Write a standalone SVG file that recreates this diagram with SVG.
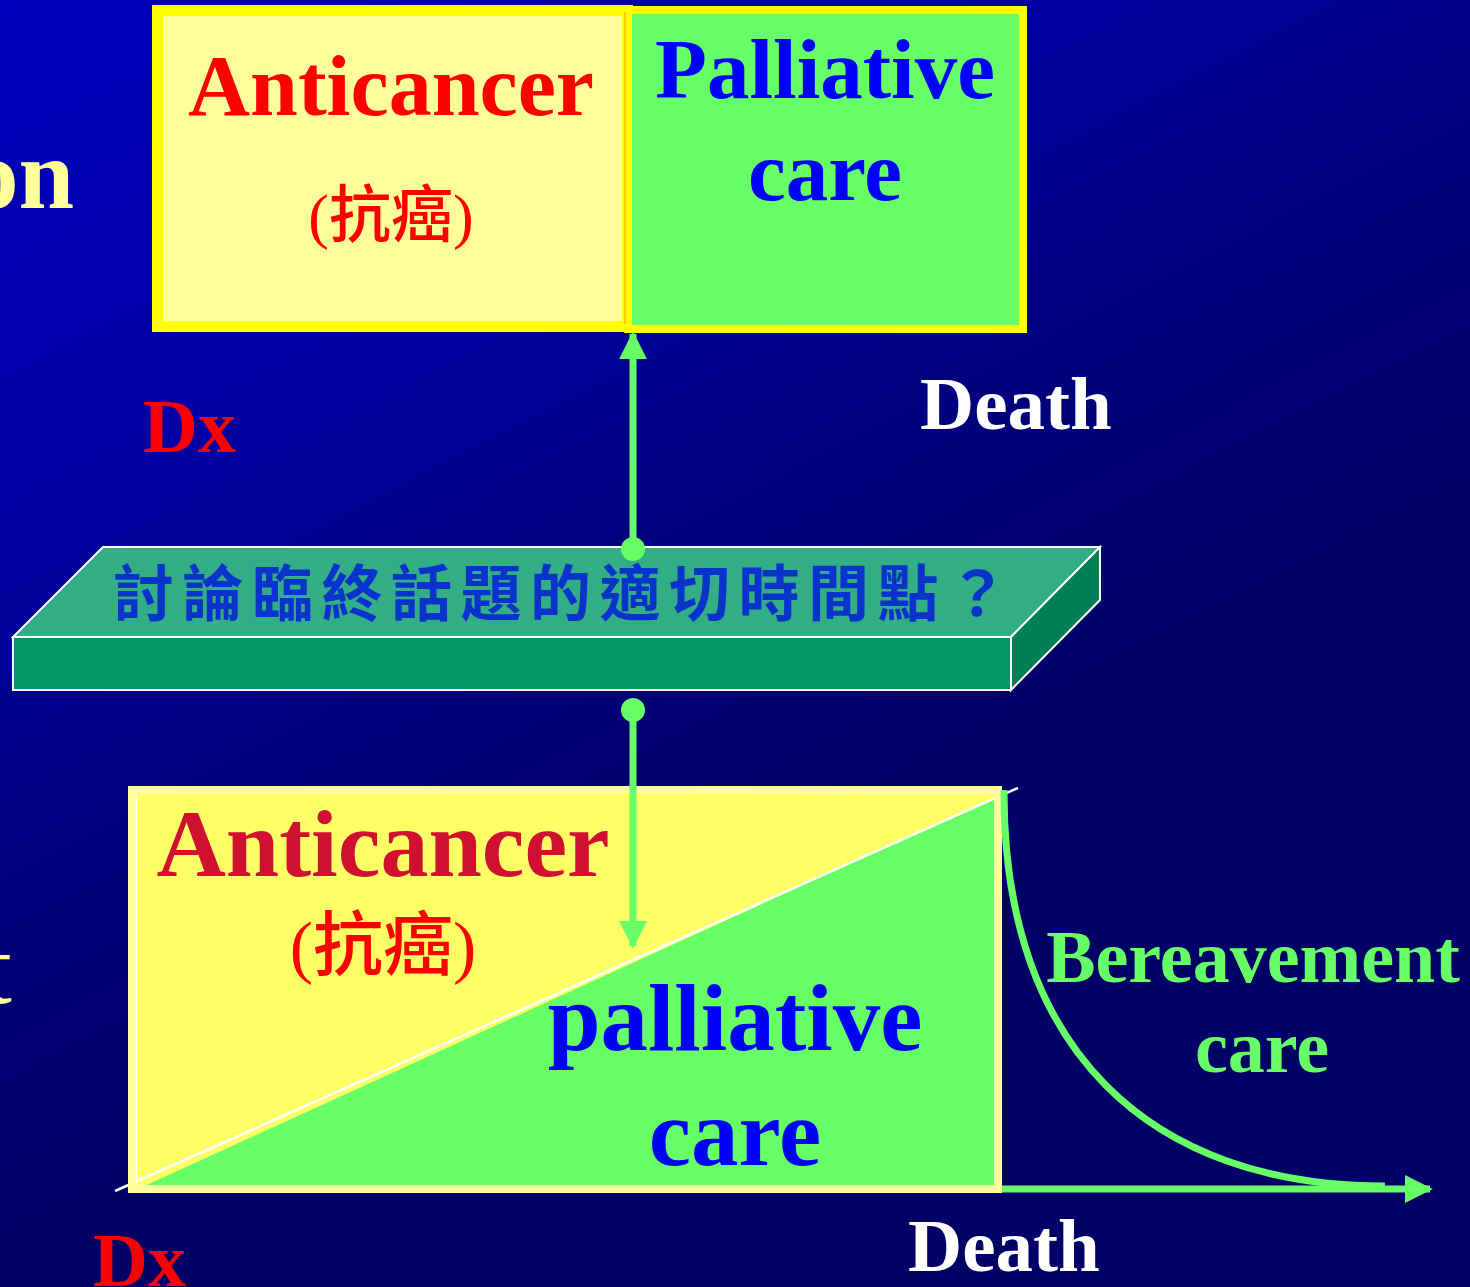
<svg xmlns="http://www.w3.org/2000/svg" width="1470" height="1287" viewBox="0 0 1470 1287">
  <defs>
    <linearGradient id="bg" gradientUnits="userSpaceOnUse" x1="0" y1="0" x2="510" y2="986">
      <stop offset="0" stop-color="#0000BC"/>
      <stop offset="0.4" stop-color="#0000A6"/>
      <stop offset="0.65" stop-color="#000084"/>
      <stop offset="1" stop-color="#000066"/>
    </linearGradient>
    <marker id="head" viewBox="0 0 10 10" refX="9" refY="5" markerWidth="4" markerHeight="4" orient="auto" markerUnits="strokeWidth">
      <path d="M0,0 L10,5 L0,10 Z" fill="#66FF66"/>
    </marker>
    <style>
      .en { font-family: "Liberation Serif", "Times New Roman", serif; font-weight: bold; }
      .zh { font-family: "Liberation Serif", "Noto Sans CJK TC", serif; }
      .mid { text-anchor: middle; }
      .conn { stroke: #66FF66; stroke-width: 7; fill: none; }
      .dot { fill: #66FF66; }
    </style>
  </defs>

  <rect width="1470" height="1287" fill="url(#bg)"/>

  <!-- partially visible title words at the left edge -->
  <text class="en" x="74" y="208" font-size="100" fill="#FFFF99" text-anchor="end">on</text>
  <text x="12" y="1003" font-size="104" fill="#FFFF99" text-anchor="end" font-family="Liberation Serif, serif">t</text>

  <!-- top model: sequential care -->
  <g id="top-anticancer">
    <rect x="157.5" y="10.5" width="470" height="316" fill="#FFFF99" stroke="#FFFF00" stroke-width="11"/>
    <text class="en mid" x="391" y="115" font-size="86" fill="#FF0000">Anticancer</text>
    <text class="zh mid" x="391" y="237" font-size="62" font-weight="500" fill="#FF0000">(抗癌)</text>
  </g>
  <g id="top-palliative">
    <rect x="628" y="10" width="395" height="319" fill="#66FF66" stroke="#FFFF00" stroke-width="8"/>
    <line x1="625" y1="12" x2="625" y2="324" stroke="#FF9900" stroke-width="1"/>
    <text class="en mid" x="825" y="98" font-size="85" fill="#0000FF">Palliative</text>
    <text class="en mid" x="825" y="200" font-size="85" fill="#0000FF">care</text>
  </g>
  <g id="top-dx">
    <text class="en" x="143" y="452" font-size="76" fill="#FF0000">Dx</text>
  </g>
  <g id="top-death">
    <text class="en" x="920" y="429" font-size="75" fill="#FFFFFF">Death</text>
  </g>

  <!-- question slab -->
  <g id="question">
    <polygon points="103,547 1100,547 1011,637 13,637" fill="#33AD86" stroke="#FFFFFF" stroke-width="2"/>
    <polygon points="13,637 1011,637 1011,690 13,690" fill="#009966" stroke="#FFFFFF" stroke-width="2"/>
    <polygon points="1011,637 1100,547 1100,600 1011,690" fill="#007F55" stroke="#FFFFFF" stroke-width="2"/>
    <text class="zh" x="113" y="616" font-size="61" font-weight="bold" letter-spacing="8.5" fill="#0A33CC">討論臨終話題的適切時間點？</text>
  </g>

  <!-- bottom model: overlapping care -->
  <g id="bottom-care">
    <rect x="132" y="790" width="866" height="399" fill="#FFFF66"/>
    <polygon points="140,1188 998,796 998,1188" fill="#66FF66"/>
    <line x1="115" y1="1191" x2="1018" y2="788" stroke="#FFFFFF" stroke-width="2.5"/>
    <rect x="132" y="790" width="866" height="399" fill="none" stroke="#FFFF99" stroke-width="8"/>
    <line x1="136.5" y1="794" x2="136.5" y2="1186" stroke="#FFFFFF" stroke-width="1"/>
    <text class="en mid" x="383" y="876" font-size="96" fill="#D01030">Anticancer</text>
    <text class="zh mid" x="383" y="970" font-size="70" font-weight="500" fill="#FF0000">(抗癌)</text>
    <text class="en mid" x="735" y="1050" font-size="95" fill="#0000FF">palliative</text>
    <text class="en mid" x="735" y="1165" font-size="95" fill="#0000FF">care</text>
  </g>
  <g id="bereavement">
    <text class="en mid" x="1253" y="982" font-size="74" fill="#66FF66">Bereavement</text>
    <text class="en mid" x="1262" y="1072" font-size="74" fill="#66FF66">care</text>
  </g>
  <g id="bottom-dx">
    <text class="en" x="93" y="1286" font-size="76" fill="#FF0000">Dx</text>
  </g>
  <g id="bottom-death">
    <text class="en" x="908" y="1271" font-size="75" fill="#FFFFFF">Death</text>
  </g>

  <!-- connectors -->
  <g id="connectors">
    <line class="conn" x1="633" y1="549" x2="633" y2="334" marker-end="url(#head)"/>
    <circle class="dot" cx="633" cy="549" r="12"/>
    <line class="conn" x1="633" y1="710" x2="633" y2="946" marker-end="url(#head)"/>
    <circle class="dot" cx="633" cy="710" r="12"/>
    <path class="conn" d="M1004,790 C1003,1050 1150,1186 1385,1186" stroke-width="5"/>
    <line class="conn" x1="1002" y1="1189" x2="1430" y2="1189" stroke-width="6" marker-end="url(#head)"/>
  </g>
</svg>
